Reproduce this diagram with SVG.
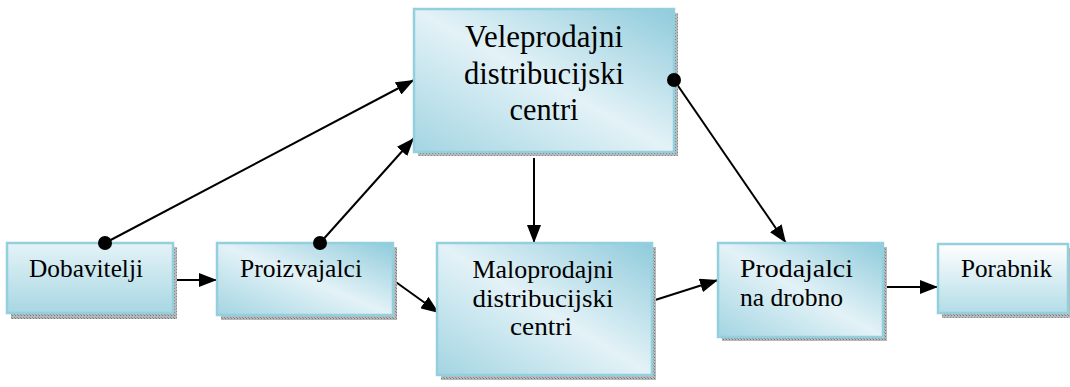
<svg xmlns="http://www.w3.org/2000/svg" width="1070" height="387" viewBox="0 0 1070 387">
  <defs>
    <linearGradient id="gDiag" x1="1" y1="0" x2="0" y2="1">
      <stop offset="0" stop-color="#8fcbdb"/>
      <stop offset="0.5" stop-color="#e3f2f7"/>
      <stop offset="1" stop-color="#a3d5e2"/>
    </linearGradient>
    <linearGradient id="gVert" x1="0" y1="0" x2="0" y2="1">
      <stop offset="0" stop-color="#e4f3f7"/>
      <stop offset="1" stop-color="#a8d7e3"/>
    </linearGradient>
    <linearGradient id="gWhite" x1="0" y1="0" x2="0" y2="1">
      <stop offset="0" stop-color="#ffffff"/>
      <stop offset="1" stop-color="#b3dce7"/>
    </linearGradient>
    <pattern id="hatch" width="3" height="3" patternUnits="userSpaceOnUse">
      <rect width="3" height="3" fill="#b8b8b8"/>
      <rect width="1" height="1" fill="#6f7f86"/>
      <rect x="2" y="2" width="1" height="1" fill="#7f8f96"/>
    </pattern>
    <marker id="arr" viewBox="0 0 18 14" refX="18" refY="7" markerWidth="18" markerHeight="14" markerUnits="userSpaceOnUse" orient="auto">
      <path d="M0,0 L18,7 L0,14 Z" fill="#000"/>
    </marker>
  </defs>
  <style>
    .shadow { fill: url(#hatch); }
    .box { stroke: #93cfdd; stroke-width: 2.5; }
    .t { font-family: "Liberation Serif", "Times New Roman", serif; font-size: 26px; fill: #000; }
    .tb { font-family: "Liberation Serif", "Times New Roman", serif; font-size: 31px; fill: #000; }
    .c { fill: none; stroke: #000; stroke-width: 2; }
    .dot { fill: #000; }
  </style>

  <g id="connectors">
    <line class="c" x1="105" y1="243" x2="414" y2="80" marker-end="url(#arr)"/>
    <line class="c" x1="173" y1="280" x2="217" y2="280" marker-end="url(#arr)"/>
    <line class="c" x1="320" y1="243" x2="414" y2="138" marker-end="url(#arr)"/>
    <line class="c" x1="393" y1="280" x2="439" y2="313" marker-end="url(#arr)"/>
    <line class="c" x1="534" y1="158" x2="534" y2="243" marker-end="url(#arr)"/>
    <line class="c" x1="674" y1="80" x2="786" y2="243" marker-end="url(#arr)"/>
    <line class="c" x1="652" y1="301" x2="718" y2="280" marker-end="url(#arr)"/>
    <line class="c" x1="883" y1="287" x2="938" y2="287" marker-end="url(#arr)"/>
  </g>

  <g id="veleprodajni">
    <rect class="shadow" x="418" y="13" width="260" height="143"/>
    <rect class="box" x="414" y="9" width="260" height="143" fill="url(#gDiag)"/>
    <text class="tb" x="544" y="47" text-anchor="middle" textLength="158" lengthAdjust="spacingAndGlyphs">Veleprodajni</text>
    <text class="tb" x="544" y="84" text-anchor="middle" textLength="160" lengthAdjust="spacingAndGlyphs">distribucijski</text>
    <text class="tb" x="544" y="120" text-anchor="middle" textLength="69" lengthAdjust="spacingAndGlyphs">centri</text>
    <circle class="dot" cx="674" cy="80" r="7"/>
  </g>

  <g id="dobavitelji">
    <rect class="shadow" x="11" y="247" width="166" height="72"/>
    <rect class="box" x="7" y="243" width="166" height="70" fill="url(#gVert)"/>
    <text class="t" x="29" y="277" textLength="114" lengthAdjust="spacingAndGlyphs">Dobavitelji</text>
    <circle class="dot" cx="105" cy="243" r="7"/>
  </g>

  <g id="proizvajalci">
    <rect class="shadow" x="221" y="247" width="176" height="73"/>
    <rect class="box" x="217" y="243" width="176" height="72" fill="url(#gDiag)"/>
    <text class="t" x="240" y="277" textLength="122" lengthAdjust="spacingAndGlyphs">Proizvajalci</text>
    <circle class="dot" cx="320" cy="243" r="7"/>
  </g>

  <g id="maloprodajni">
    <rect class="shadow" x="441" y="247" width="215" height="133"/>
    <rect class="box" x="437" y="243" width="215" height="132" fill="url(#gDiag)"/>
    <text class="t" x="543" y="278" text-anchor="middle" textLength="141" lengthAdjust="spacingAndGlyphs">Maloprodajni</text>
    <text class="t" x="543" y="307" text-anchor="middle" textLength="141" lengthAdjust="spacingAndGlyphs">distribucijski</text>
    <text class="t" x="541" y="335" text-anchor="middle" textLength="62" lengthAdjust="spacingAndGlyphs">centri</text>
  </g>

  <g id="prodajalci">
    <rect class="shadow" x="722" y="247" width="165" height="94"/>
    <rect class="box" x="718" y="243" width="165" height="94" fill="url(#gDiag)"/>
    <text class="t" x="740" y="277" textLength="113" lengthAdjust="spacingAndGlyphs">Prodajalci</text>
    <text class="t" x="740" y="306" textLength="103" lengthAdjust="spacingAndGlyphs">na drobno</text>
  </g>

  <g id="porabnik">
    <rect class="shadow" x="942" y="248" width="130" height="70"/>
    <rect class="box" x="938" y="244" width="130" height="69" fill="url(#gWhite)"/>
    <text class="t" x="961" y="277" textLength="91" lengthAdjust="spacingAndGlyphs">Porabnik</text>
  </g>
</svg>
